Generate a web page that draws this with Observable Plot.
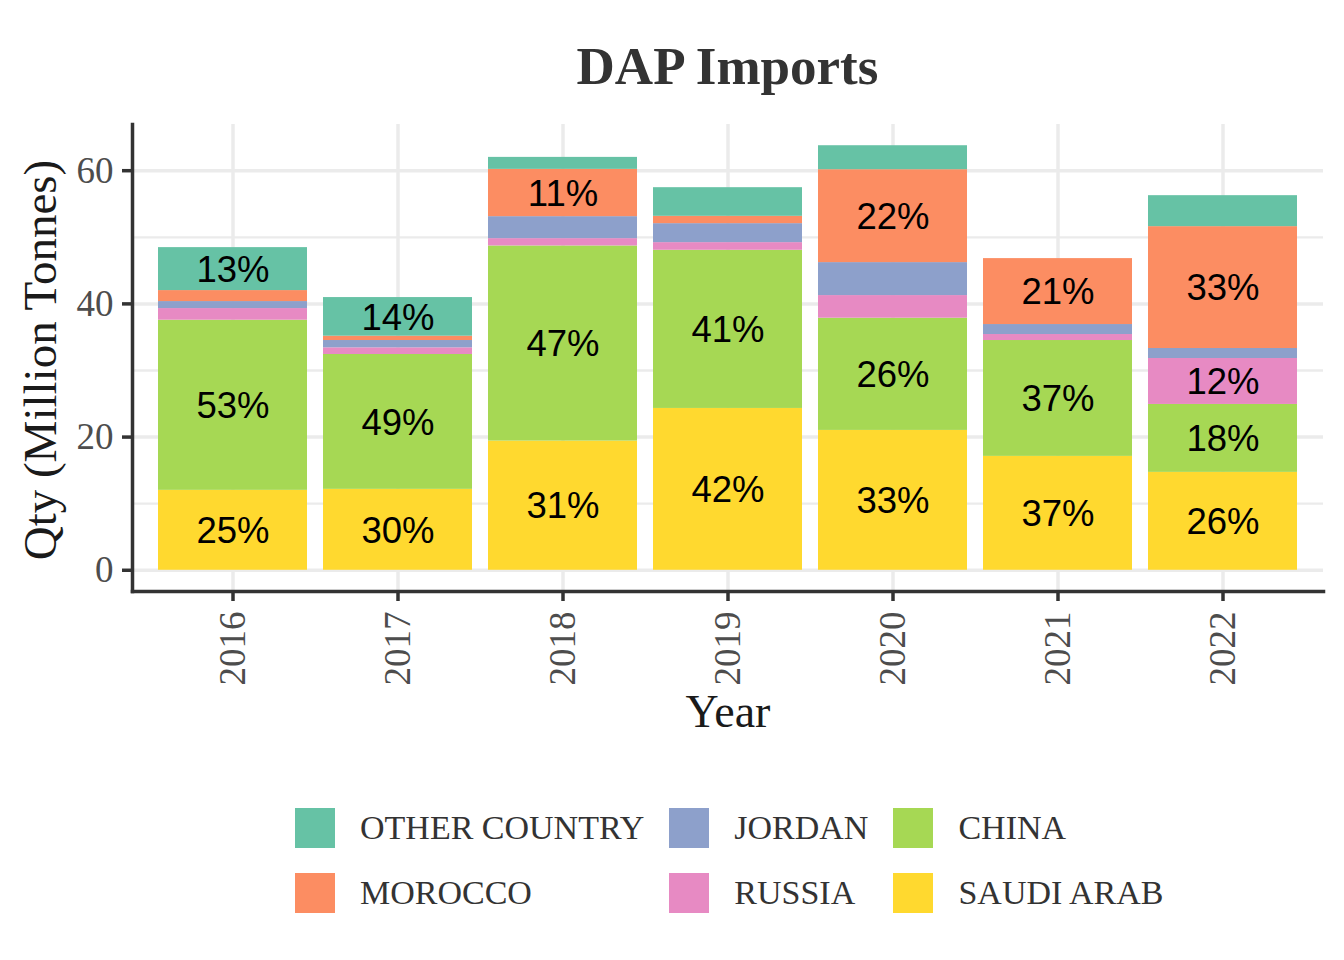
<!DOCTYPE html>
<html>
<head>
<meta charset="utf-8">
<script src="https://cdn.jsdelivr.net/npm/d3@7"></script>
<script src="https://cdn.jsdelivr.net/npm/@observablehq/plot@0.6"></script>
<style>
  body { margin: 0; background: #fff; }
  #wrap { width: 1344px; height: 960px; background: #fff; }
  #title { height: 110px; box-sizing: border-box; padding: 40px 21px 0 132px; font: bold 53px/53px "Liberation Serif", serif; color: #333; text-align: center; }
  #chart svg { display: block; }
  #legend { margin: 48px 0 0 295px; display: grid; grid-template-rows: 40px 40px; row-gap: 25px; grid-auto-flow: column; grid-auto-columns: max-content; column-gap: 25px; font: 34px "Liberation Serif", serif; color: #333; }
  .item { display: flex; align-items: center; height: 40px; }
  .sw { width: 40px; height: 40px; margin-right: 25px; flex: none; }
</style>
</head>
<body>
<div id="wrap">
  <div id="title"></div>
  <div id="chart"></div>
  <div id="legend"></div>
</div>
<script>
const chartTitle = "DAP Imports";
const xTitle = "Year";
const yTitle = "Qty (Million Tonnes)";
const years = ["2016", "2017", "2018", "2019", "2020", "2021", "2022"];
// stacking order, bottom to top
const countries = ["SAUDI ARAB", "CHINA", "RUSSIA", "JORDAN", "MOROCCO", "OTHER COUNTRY"];
const countryColors = ["#FFD92F", "#A6D854", "#E78AC3", "#8DA0CB", "#FC8D62", "#66C2A5"];
const legendOrder = ["OTHER COUNTRY", "MOROCCO", "JORDAN", "RUSSIA", "CHINA", "SAUDI ARAB"];
const saudiArab    = [12.0, 12.15, 19.4, 24.3, 21.0, 17.1, 14.7];
const china        = [25.55, 20.25, 29.3, 23.75, 16.85, 17.4, 10.2];
const russia       = [1.75, 1.0, 1.1, 1.15, 3.4, 0.9, 6.9];
const jordan       = [1.05, 1.1, 3.3, 2.85, 4.95, 1.5, 1.5];
const morocco      = [1.65, 0.65, 7.1, 1.1, 13.95, 9.9, 18.3];
const otherCountry = [6.45, 5.8, 1.8, 4.3, 3.6, 0, 4.65];
const yTicks = [0, 20, 40, 60];
const yMinor = [10, 30, 50];

const series = [saudiArab, china, russia, jordan, morocco, otherCountry];
const totals = years.map((y, j) => d3.sum(series, s => s[j]));
const rows = [];
countries.forEach((c, i) => {
  years.forEach((y, j) => {
    rows.push({year: y, country: c, qty: series[i][j], share: series[i][j] / totals[j]});
  });
});
const maxTotal = d3.max(totals);
const pad = maxTotal * 0.05;

document.getElementById("title").textContent = chartTitle;

const chart = Plot.plot({
  width: 1344,
  height: 650,
  marginTop: 14,
  marginRight: 21,
  marginBottom: 169,
  marginLeft: 132,
  style: {fontFamily: "'Liberation Serif', serif", background: "white", overflow: "visible"},
  x: {type: "band", domain: years, paddingInner: 0.1, paddingOuter: 0.15},
  y: {domain: [-pad, maxTotal + pad]},
  color: {domain: countries, range: countryColors},
  marks: [
    Plot.gridY(yMinor, {stroke: "#EBEBEB", strokeOpacity: 1, strokeWidth: 2.3}),
    Plot.gridY(yTicks, {stroke: "#EBEBEB", strokeOpacity: 1, strokeWidth: 3.5}),
    Plot.gridX(years, {stroke: "#EBEBEB", strokeOpacity: 1, strokeWidth: 3.5}),
    Plot.barY(rows, {x: "year", y: "qty", fill: "country"}),
    Plot.text(rows, Plot.stackY({
      x: "year", y: "qty", z: "country",
      text: d => d.share >= 0.1 ? Math.round(d.share * 100) + "%" : null,
      fontSize: 36.5, fontFamily: "'Liberation Sans', Arial, sans-serif", fill: "black", dy: 1
    })),
    Plot.axisY(yTicks, {tickSize: 10, tickPadding: 9, stroke: "#333", strokeWidth: 3.5, fill: "#4D4D4D", fontSize: 37, label: null}),
    Plot.axisX(years, {tickRotate: -90, tickSize: 10, tickPadding: 10, stroke: "#333", strokeWidth: 3.5, fill: "#4D4D4D", fontSize: 37, label: null}),
    Plot.frame({anchor: "left", stroke: "#333", strokeWidth: 3.5}),
    Plot.frame({anchor: "bottom", stroke: "#333", strokeWidth: 3.5}),
    Plot.text([xTitle], {text: d => d, frameAnchor: "bottom", textAnchor: "middle", lineAnchor: "middle", dy: 121, fontSize: 46, fill: "#1a1a1a"}),
    Plot.text([yTitle], {text: d => d, frameAnchor: "left", textAnchor: "middle", lineAnchor: "middle", rotate: -90, dx: -92, dy: 2, fontSize: 47, fill: "#1a1a1a"})
  ]
});
document.getElementById("chart").appendChild(chart);

const legend = document.getElementById("legend");
legendOrder.forEach(c => {
  const item = document.createElement("div");
  item.className = "item";
  const sw = document.createElement("div");
  sw.className = "sw";
  sw.style.background = countryColors[countries.indexOf(c)];
  const label = document.createElement("span");
  label.textContent = c;
  item.appendChild(sw);
  item.appendChild(label);
  legend.appendChild(item);
});
</script>
</body>
</html>
